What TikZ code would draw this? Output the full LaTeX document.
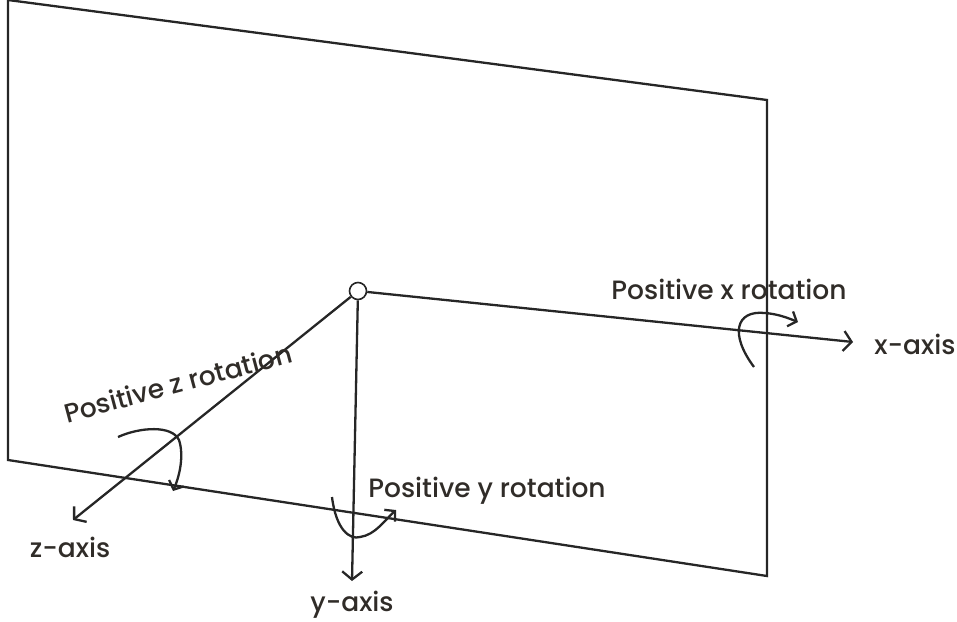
\documentclass[tikz,border=0pt]{standalone}
\usepackage{fontspec}
\setmainfont{Poppins}[UprightFont=* Medium]
\usetikzlibrary{arrows.meta}
\definecolor{ink}{HTML}{262626}
\definecolor{txt}{HTML}{302C28}
\tikzset{
  edge/.style={draw=ink, line width=2.3pt},
  axis/.style={draw=ink, line width=2.3pt, -{Straight Barb[length=8pt,width=20pt,line width=2.3pt]}},
  rot/.style={draw=ink, line width=2.3pt, -{Straight Barb[length=7pt,width=16pt,line width=2.3pt]}},
  lbl/.style={text=txt, font=\fontsize{26.5}{30}\selectfont, inner sep=0pt},
}
\begin{document}
\begin{tikzpicture}[x=1pt,y=-1pt]
\useasboundingbox (0,0) rectangle (957,621);
% plane
\coordinate (tl) at (8,0);
\coordinate (tr) at (767,100);
\coordinate (br) at (767,576);
\coordinate (bl) at (8,460);
\draw[edge] (tl) -- (tr) -- (br) -- (bl) -- cycle;
% origin
\node[circle, draw=ink, fill=white, line width=1.6pt, minimum size=17pt, inner sep=0pt] (o) at (358,291) {};
\coordinate (xe) at (853,342);
\coordinate (ze) at (73,520);
\coordinate (ye) at (352,581);
\draw[axis] (o) -- (xe);
\draw[axis] (o) -- (ze);
\draw[axis] (o) -- (ye);
% labels
\node[lbl] (xl) at (915,344) {x-axis};
\node[lbl] (zl) at (70,547) {z-axis};
\node[lbl] (yl) at (352,605) {y-axis};
\node[lbl] (xr) at (729,289) {Positive x rotation};
\node[lbl, rotate=15] (zr) at (178,383) {Positive z rotation};
\node[lbl] (yr) at (487,491) {Positive y rotation};
% rotation arrows
\coordinate (xs) at (754,367);
\coordinate (xt) at (798,322);
\draw[rot] (xs) .. controls (730,335) and (735,310) .. (765,313) .. controls (778,314) and (788,318) .. (xt);
\coordinate (zs) at (118,437);
\coordinate (zt) at (173,491);
\draw[rot] (zs) .. controls (140,427) and (172,425) .. (179,440) .. controls (184,455) and (180,475) .. (zt);
\coordinate (ys) at (332,497);
\coordinate (yt) at (396,510);
\draw[rot] (ys) .. controls (336,530) and (350,540) .. (360,537) .. controls (375,535) and (385,520) .. (yt);
\end{tikzpicture}
\end{document}
